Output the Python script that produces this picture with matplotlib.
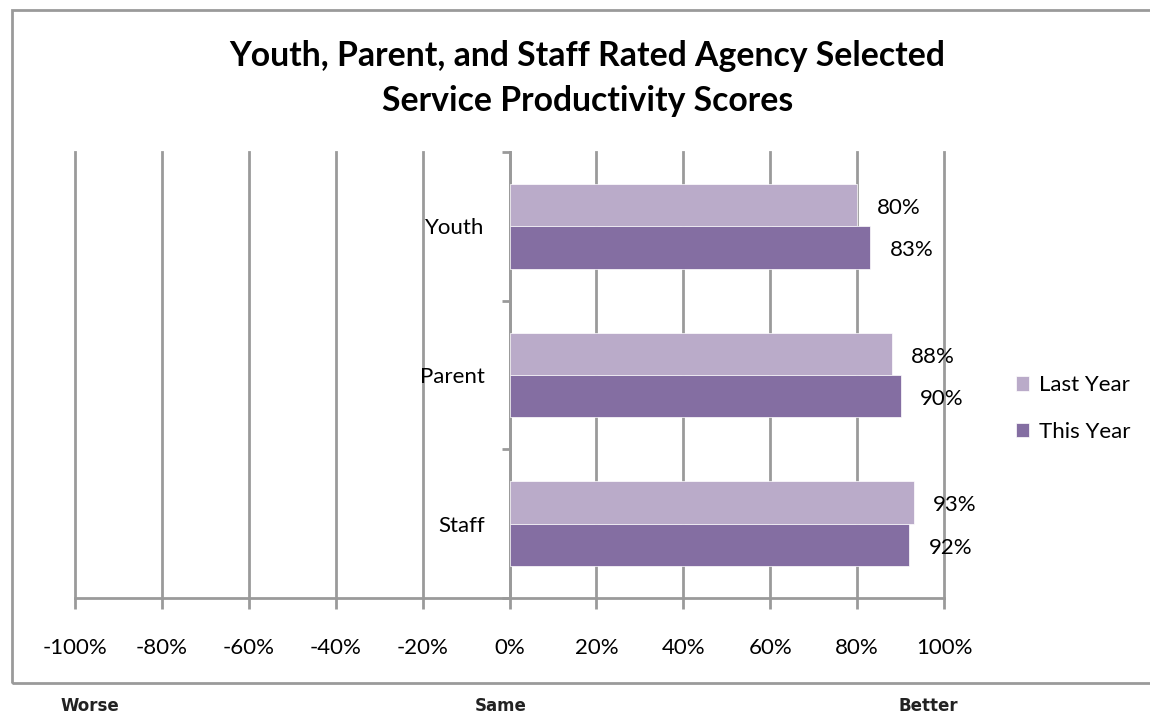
import matplotlib.pyplot as plt
from matplotlib.patches import Rectangle
import numpy as np

# data
categories = ['Youth', 'Parent', 'Staff']
last_year = [80, 88, 93]
this_year = [83, 90, 92]
x_ticks = [-100, -80, -60, -40, -20, 0, 20, 40, 60, 80, 100]
series_names = ['Last Year', 'This Year']
bottom_words = ['Worse', 'Same', 'Better']

plt.rcParams['font.family'] = ['Lato', 'DejaVu Sans']

fig = plt.figure(figsize=(11.5, 7.17), dpi=100)
ax = fig.add_axes([0.0652, 0.166, 0.7557, 0.622])

c_last = '#BAABC9'
c_this = '#846EA2'
grey = '#9A9A9A'
fs = 16

# y axis sits on the 0% line (do this before setting tick labels)
for s in ['top', 'right']:
    ax.spines[s].set_visible(False)
ax.spines['left'].set_position(('data', 0))
ax.spines['left'].set_color(grey)
ax.spines['left'].set_linewidth(2)
ax.spines['bottom'].set_color(grey)
ax.spines['bottom'].set_linewidth(2)

y = np.arange(len(categories))[::-1]
h = 0.284
ax.barh(y + h / 2, last_year, height=h, color=c_last, edgecolor='white', linewidth=0.5, label=series_names[0], zorder=3)
ax.barh(y - h / 2, this_year, height=h, color=c_this, edgecolor='white', linewidth=0.5, label=series_names[1], zorder=3)

# value labels
for yy, v in zip(y + h / 2, last_year):
    ax.annotate(f'{v}%', (v, yy), xytext=(14, -2), textcoords='offset points',
                va='center', ha='left', fontsize=fs)
for yy, v in zip(y - h / 2, this_year):
    ax.annotate(f'{v}%', (v, yy), xytext=(14, -2), textcoords='offset points',
                va='center', ha='left', fontsize=fs)

ax.set_xlim(-100, 100)
ax.set_ylim(-0.5, 2.5)
ax.set_xticks(x_ticks)
ax.set_xticklabels([f'{t}%' for t in x_ticks])
ax.grid(axis='x', color=grey, linewidth=2, zorder=0)
for gl in ax.get_xgridlines():
    gl.set_clip_on(False)
ax.tick_params(axis='x', length=8, width=2, color=grey, pad=21, labelsize=fs)

# category labels at centres, tick marks at boundaries
ax.set_yticks(y)
ax.set_yticklabels(categories)
ax.set_yticks(np.arange(-0.5, 3.0, 1.0), minor=True)
ax.tick_params(axis='y', which='major', length=0, pad=18, labelsize=fs)
ax.tick_params(axis='y', which='minor', length=6, width=2, color=grey)

fig.text(0.511, 0.891, 'Youth, Parent, and Staff Rated Agency Selected\nService Productivity Scores',
         ha='center', va='center', fontsize=24.3, fontweight='bold', linespacing=1.5)

leg = ax.legend(loc='center left', bbox_to_anchor=(0.866, 0.43), bbox_transform=fig.transFigure,
                frameon=False, fontsize=fs, handlelength=0.6, handleheight=0.6,
                handletextpad=0.45, labelspacing=1.2)

# outer chart border
fig.patches.append(Rectangle((0.0104, 0.0474), 1.2, 0.9386, transform=fig.transFigure,
                             fill=False, edgecolor=grey, linewidth=2))

for word, xpos in zip(bottom_words, [0.078, 0.435, 0.807]):
    fig.text(xpos, 0.015, word, ha='center', va='center', fontsize=12, fontweight='bold',
             family=['Liberation Sans Narrow', 'DejaVu Sans'], color='#222222')

fig.savefig('out.png', dpi=100)
